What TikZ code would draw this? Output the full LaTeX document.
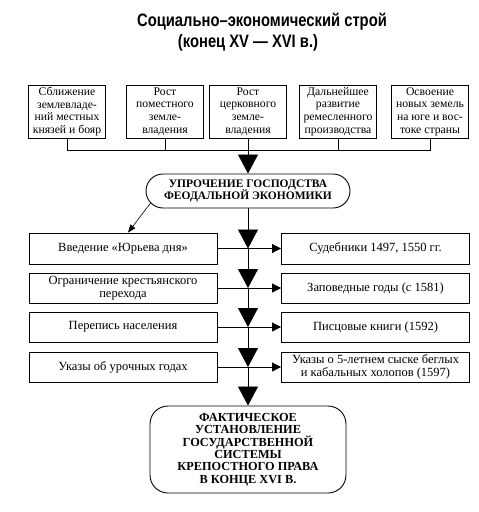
\documentclass[tikz,border=0pt]{standalone}
\usepackage{fontspec}
\setmainfont{Liberation Serif}
\newfontfamily\titlefont{Liberation Sans}[FakeStretch=0.82]
\usetikzlibrary{arrows.meta, positioning, calc}

\begin{document}
\begin{tikzpicture}[x=1pt, y=-1pt,
  topbox/.style={rectangle, draw, line width=0.8pt, minimum width=77pt, minimum height=53pt,
      align=center, inner sep=2pt, font=\fontsize{11.7}{12.6}\selectfont},
  sidebox/.style={rectangle, draw, line width=0.8pt, minimum width=188pt, minimum height=30pt,
      align=center, inner sep=2pt, font=\fontsize{12.5}{13}\selectfont},
  capbox/.style={rectangle, draw, line width=0.9pt, align=center, inner sep=2pt,
      font=\bfseries\fontsize{11.5}{12.5}\selectfont},
  bigarrow/.style={line width=0.8pt, -{Triangle[width=20pt,length=19pt]}},
  smallarrow/.style={line width=0.8pt, -{Triangle[width=9pt,length=9pt]}}]
\useasboundingbox (0,0) rectangle (479,512);

\node[font=\titlefont\bfseries\fontsize{18}{20}\selectfont] (title1) at (262,22) {Социально–экономический строй};
\node[font=\titlefont\bfseries\fontsize{18}{20}\selectfont] (title2) at (248,43) {(конец XV — XVI в.)};

\node[topbox] (b1) at (67,111.5) {Сближение\\землевладе-\\ний местных\\князей и бояр};
\node[topbox] (b2) at (165,111.5) {Рост\\поместного\\земле-\\владения};
\node[topbox] (b3) at (248,111.5) {Рост\\церковного\\земле-\\владения};
\node[topbox] (b4) at (338,111.5) {Дальнейшее\\развитие\\ремесленного\\производства};
\node[topbox] (b5) at (430,111.5) {Освоение\\новых земель\\на юге и вос-\\токе страны};

\coordinate (bus) at (248,150);
\draw[line width=0.8pt] (b1.south) -- (b1.south |- bus) -- (b5.south |- bus) -- (b5.south);
\foreach \b in {b2,b3,b4}
  \draw[line width=0.8pt] (\b.south) -- (\b.south |- bus);

\node[capbox, rounded corners=17pt, minimum width=204pt, minimum height=34pt] (main) at (248,191)
  {УПРОЧЕНИЕ ГОСПОДСТВА\\ФЕОДАЛЬНОЙ ЭКОНОМИКИ};
\draw[bigarrow] (bus) -- (main.north);

\node[sidebox, minimum height=31pt] (l1) at (123,248.5) {Введение «Юрьева дня»};
\node[sidebox, minimum height=31pt] (r1) at (375.5,248.5) {Судебники 1497, 1550 гг.};
\node[sidebox] (l2) at (123,288) {Ограничение крестьянского\\перехода};
\node[sidebox] (r2) at (375.5,288) {Заповедные годы (с 1581)};
\node[sidebox] (l3) at (123,327) {Перепись населения};
\node[sidebox] (r3) at (375.5,327) {Писцовые книги (1592)};
\node[sidebox] (l4) at (123,367) {Указы об урочных годах};
\node[sidebox] (r4) at (375.5,367) {Указы о 5-летнем сыске беглых\\и кабальных холопов (1597)};

\node[capbox, rounded corners=18pt, minimum width=196pt, minimum height=87pt,
      font=\bfseries\fontsize{12.3}{12.4}\selectfont] (fin) at (248,449.5)
  {ФАКТИЧЕСКОЕ\\УСТАНОВЛЕНИЕ\\ГОСУДАРСТВЕННОЙ\\СИСТЕМЫ\\КРЕПОСТНОГО ПРАВА\\В КОНЦЕ XVI В.};

\coordinate (mainsw) at ($(main.west)+(17,0)+(225:17pt)$);
\draw[line width=0.6pt, -{Triangle[width=6pt,length=8pt]}] (mainsw) -- ($(l1.north)+(5,0)$);

\foreach \r in {1,2,3,4}
  \draw[smallarrow] (l\r.east) -- (r\r.west);
\draw[bigarrow] (main.south) -- (main.south |- l1.east);
\draw[bigarrow] (main.south |- l1.east) -- (main.south |- l2.east);
\draw[bigarrow] (main.south |- l2.east) -- (main.south |- l3.east);
\draw[bigarrow] (main.south |- l3.east) -- (main.south |- l4.east);
\draw[bigarrow] (main.south |- l4.east) -- (fin.north);
\end{tikzpicture}
\end{document}
